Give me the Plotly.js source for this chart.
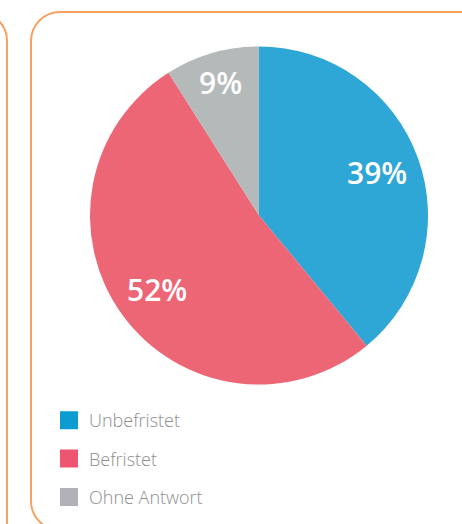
<!DOCTYPE html>
<html>
<head>
<meta charset="utf-8">
<script src="https://cdn.plot.ly/plotly-3.0.1.min.js"></script>
<style>
  html, body { margin: 0; padding: 0; background: #ffffff; }
  #wrap { position: relative; width: 462px; height: 524px; overflow: hidden; background: #ffffff; }
  .frame { position: absolute; border: 2px solid #f6a263; border-radius: 30px; box-sizing: border-box; }
  #frameLeft { left: -100px; top: 11px; width: 108px; height: 600px; }
  #frameMain { left: 30px; top: 11px; width: 500px; height: 520px; }
  #chart { position: absolute; left: 0; top: 0; width: 462px; height: 524px; }
</style>
</head>
<body>
<div id="wrap">
  <div id="frameLeft" class="frame"></div>
  <div id="frameMain" class="frame"></div>
  <div id="chart"></div>
</div>
<script>
// ---- data ----
const categories = ["Unbefristet", "Befristet", "Ohne Antwort"];
const shares = [39, 52, 9];
const labelsText = ["39%", "52%", "9%"];

// ---- styles ----
const sliceColors = ["#2ea6d6", "#ec6676", "#b4b9b9"];
const legendColors = ["#0d9ccf", "#ee5570", "#b3b1b8"];

const W = 462, H = 524;
const cx = 259, cy = 215.5, R = 169;

const pie = {
  type: "pie",
  labels: categories,
  values: shares,
  sort: false,
  direction: "clockwise",
  rotation: 0,
  marker: { colors: sliceColors, line: { width: 0 } },
  textinfo: "none",
  hoverinfo: "none",
  showlegend: false,
  domain: {
    x: [(cx - R) / W, (cx + R) / W],
    y: [1 - (cy + R) / H, 1 - (cy - R) / H]
  }
};

// slice labels placed along each slice's bisector (derived from the values)
const total = shares.reduce((a, b) => a + b, 0);
let cum = 0;
const annotations = shares.map((v, i) => {
  const mid = (cum + v / 2) / total * 2 * Math.PI;
  cum += v;
  const rf = (v / total < 0.2 ? 0.82 : 0.745) * R;
  return {
    xref: "paper", yref: "paper",
    x: (cx + rf * Math.sin(mid)) / W,
    y: 1 - (cy - rf * Math.cos(mid)) / H,
    xanchor: "center", yanchor: "middle",
    text: labelsText[i],
    showarrow: false,
    font: { family: "Open Sans, sans-serif", size: 30, color: "#ffffff", weight: 600 }
  };
});

const legendTraces = categories.map((c, i) => ({
  type: "scatter",
  mode: "markers",
  x: [null], y: [null],
  name: c,
  legendgroup: "g" + i,
  marker: { symbol: "square", size: 16, color: legendColors[i], line: { width: 2, color: legendColors[i] } },
  hoverinfo: "none",
  showlegend: true
}));

const layout = {
  width: W, height: H,
  margin: { l: 0, r: 0, t: 0, b: 0 },
  paper_bgcolor: "rgba(0,0,0,0)",
  plot_bgcolor: "rgba(0,0,0,0)",
  xaxis: { visible: false, range: [0, 1] },
  yaxis: { visible: false, range: [0, 1] },
  showlegend: true,
  annotations: annotations,
  legend: {
    x: 49 / W, xanchor: "left",
    y: 1 - 402 / H, yanchor: "top",
    orientation: "v",
    tracegroupgap: 12,
    bgcolor: "rgba(0,0,0,0)",
    borderwidth: 0,
    font: { family: "Open Sans, sans-serif", size: 18, color: "#8e8e8e", weight: 300 },
    itemsizing: "trace",
    itemclick: false, itemdoubleclick: false
  }
};

Plotly.newPlot("chart", [pie].concat(legendTraces), layout, { staticPlot: true, displayModeBar: false });
</script>
</body>
</html>
